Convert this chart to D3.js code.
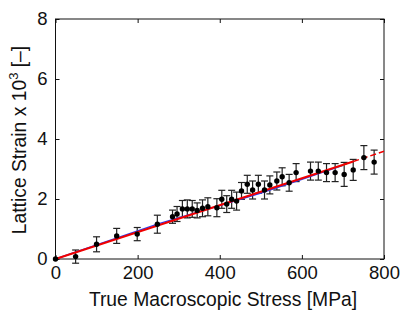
<!DOCTYPE html>
<html>
<head>
<meta charset="utf-8">
<script src="https://cdn.jsdelivr.net/npm/d3@7"></script>
<style>
  body { margin: 0; background: #fff; }
  svg { font-family: "Liberation Sans", Arial, sans-serif; }
</style>
</head>
<body>
<div id="chart"></div>
<script>
// measured points: stress [MPa], lattice strain x 1e3, error half-width
const stress = [0, 49, 100, 149, 199, 248, 285, 296, 309, 321, 333, 345, 358, 371, 393, 405, 417, 429, 441, 453, 467, 480, 494, 509, 522, 539, 552, 569, 586, 621, 640, 660, 681, 703, 725, 751, 776];
const strain = [0, 0.08, 0.49, 0.77, 0.83, 1.16, 1.41, 1.5, 1.67, 1.67, 1.67, 1.62, 1.69, 1.74, 1.71, 1.99, 1.83, 1.99, 1.93, 2.27, 2.49, 2.3, 2.49, 2.3, 2.47, 2.6, 2.74, 2.54, 2.88, 2.93, 2.93, 2.88, 2.88, 2.82, 2.97, 3.38, 3.23];
const errBar = [0.05, 0.22, 0.25, 0.25, 0.22, 0.3, 0.22, 0.25, 0.28, 0.3, 0.28, 0.25, 0.28, 0.3, 0.3, 0.3, 0.28, 0.3, 0.3, 0.28, 0.3, 0.3, 0.3, 0.3, 0.3, 0.3, 0.3, 0.28, 0.3, 0.3, 0.3, 0.3, 0.3, 0.4, 0.35, 0.4, 0.4];

// model curves
const blueX = [0, 250, 400, 500, 600, 700];
const blueY = [0, 1.17, 1.78, 2.2, 2.66, 3.12];
const greenX = [680, 710];
const greenY = [3.04, 3.17];
const fitX = [0, 725];
const fitY = [0, 3.25];
const fitDashX = [725, 800];
const fitDashY = [3.25, 3.59];

const xTicks = [0, 200, 400, 600, 800];
const yTicks = [0, 2, 4, 6, 8];

const W = 407, H = 313;
const margin = { top: 19, right: 23, bottom: 54, left: 55.5 };

const svg = d3.select("#chart").append("svg")
    .attr("width", W)
    .attr("height", H);

const x = d3.scaleLinear().domain([0, 800]).range([margin.left, W - margin.right]);
const y = d3.scaleLinear().domain([0, 8]).range([H - margin.bottom, margin.top]);

const ink = "#111";

// axes with inward ticks
const tick = 4;
svg.append("g")
    .attr("transform", `translate(0,${y(0)})`)
    .call(d3.axisBottom(x).tickValues(xTicks).tickSize(-tick).tickPadding(7))
    .call(g => g.select(".domain").remove());
svg.append("g")
    .attr("transform", `translate(0,${y(8)})`)
    .call(d3.axisTop(x).tickValues(xTicks).tickSize(-tick).tickFormat(""))
    .call(g => g.select(".domain").remove());
svg.append("g")
    .attr("transform", `translate(${x(0)},0)`)
    .call(d3.axisLeft(y).tickValues(yTicks).tickSize(-tick).tickPadding(8))
    .call(g => g.select(".domain").remove());
svg.append("g")
    .attr("transform", `translate(${x(800)},0)`)
    .call(d3.axisRight(y).tickValues(yTicks).tickSize(-tick).tickFormat(""))
    .call(g => g.select(".domain").remove());

svg.selectAll(".tick line").attr("stroke", ink);
svg.selectAll(".tick text")
    .attr("fill", ink)
    .style("font-size", "18.5px")
    .style("font-family", "'Liberation Sans', Arial, sans-serif");

svg.append("rect")
    .attr("x", x(0)).attr("y", y(8))
    .attr("width", x(800) - x(0)).attr("height", y(0) - y(8))
    .attr("fill", "none").attr("stroke", ink).attr("stroke-width", 1);

const line = d3.line().x(d => x(d[0])).y(d => y(d[1]));

const plot = svg.append("g");

// error bars
const pts = stress.map((s, i) => ({ s, v: strain[i], e: errBar[i] }));
const eb = plot.append("g").attr("stroke", "#222").attr("stroke-width", 1.2);
eb.selectAll("line.v").data(pts.slice(1)).join("line")
    .attr("x1", d => x(d.s)).attr("x2", d => x(d.s))
    .attr("y1", d => y(d.v - d.e)).attr("y2", d => y(d.v + d.e));
eb.selectAll("line.t").data(pts.slice(1)).join("line")
    .attr("x1", d => x(d.s) - 3.5).attr("x2", d => x(d.s) + 3.5)
    .attr("y1", d => y(d.v + d.e)).attr("y2", d => y(d.v + d.e));
eb.selectAll("line.b").data(pts.slice(1)).join("line")
    .attr("x1", d => x(d.s) - 3.5).attr("x2", d => x(d.s) + 3.5)
    .attr("y1", d => y(d.v - d.e)).attr("y2", d => y(d.v - d.e));

// model lines
plot.append("path")
    .datum(blueX.map((v, i) => [v, blueY[i]]))
    .attr("d", line).attr("fill", "none").attr("stroke", "#2a3cf0").attr("stroke-width", 1.5);
plot.append("path")
    .datum(greenX.map((v, i) => [v, greenY[i]]))
    .attr("d", line).attr("fill", "none").attr("stroke", "#6fc03a").attr("stroke-width", 1.2);
plot.append("path")
    .datum(fitX.map((v, i) => [v, fitY[i]]))
    .attr("d", line).attr("fill", "none").attr("stroke", "#f00000").attr("stroke-width", 2);
plot.append("path")
    .datum(fitDashX.map((v, i) => [v, fitDashY[i]]))
    .attr("d", line).attr("fill", "none").attr("stroke", "#f00000").attr("stroke-width", 1.5)
    .attr("stroke-dasharray", "6,3");

// markers
plot.selectAll("circle").data(pts).join("circle")
    .attr("cx", d => x(d.s)).attr("cy", d => y(d.v))
    .attr("r", 2.7).attr("fill", "#000");

// labels
svg.append("text")
    .attr("x", 223).attr("y", 306)
    .attr("text-anchor", "middle")
    .attr("fill", ink)
    .style("font-size", "19.3px")
    .text("True Macroscopic Stress [MPa]");

const yl = svg.append("text")
    .attr("transform", `translate(26,140) rotate(-90)`)
    .attr("text-anchor", "middle")
    .attr("fill", ink)
    .style("font-size", "19.3px");
yl.append("tspan").text("Lattice Strain x 10");
yl.append("tspan").attr("dy", -8).style("font-size", "13px").text("3");
yl.append("tspan").attr("dy", 8).text(" [\u2013]");
</script>
</body>
</html>
